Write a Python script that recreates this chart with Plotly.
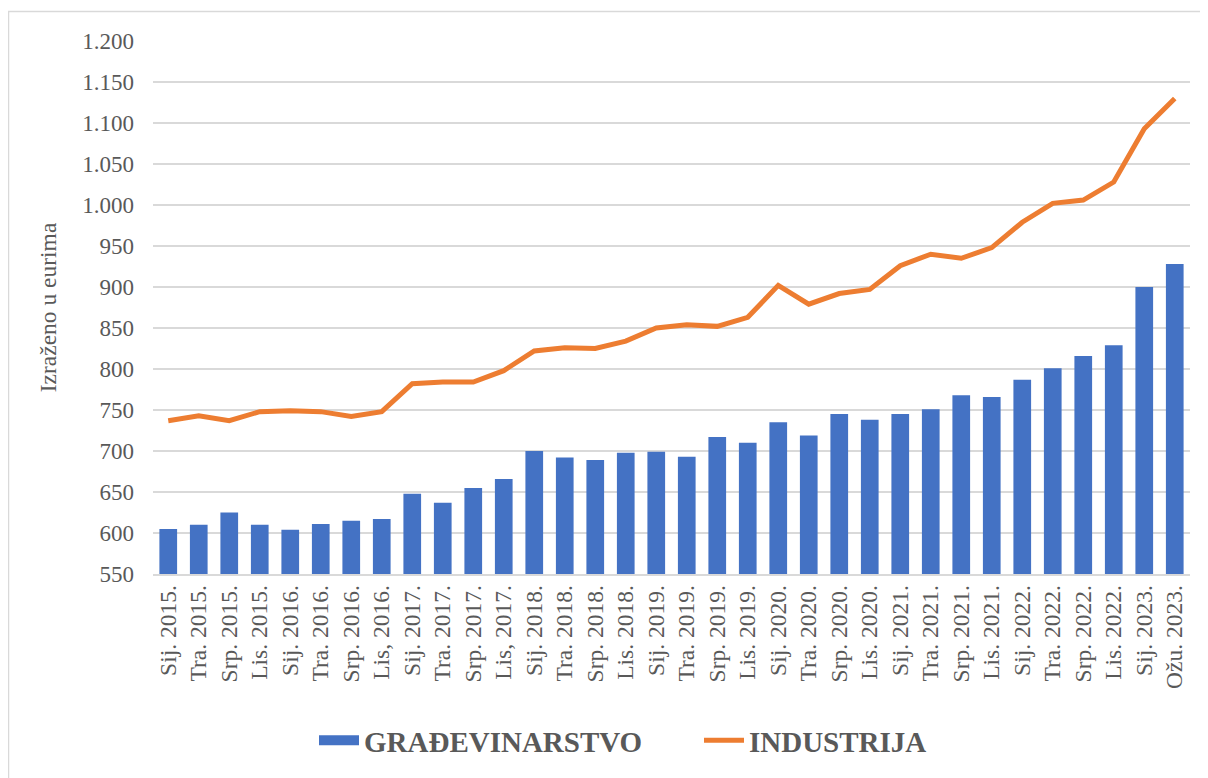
import plotly.graph_objects as go

categories = [
    "Sij. 2015.", "Tra. 2015.", "Srp. 2015.", "Lis. 2015.",
    "Sij. 2016.", "Tra. 2016.", "Srp. 2016.", "Lis, 2016.",
    "Sij. 2017.", "Tra. 2017.", "Srp. 2017.", "Lis, 2017.",
    "Sij. 2018.", "Tra. 2018.", "Srp. 2018.", "Lis. 2018.",
    "Sij. 2019.", "Tra. 2019.", "Srp. 2019.", "Lis. 2019.",
    "Sij. 2020.", "Tra. 2020.", "Srp. 2020.", "Lis. 2020.",
    "Sij. 2021.", "Tra. 2021.", "Srp. 2021.", "Lis. 2021.",
    "Sij. 2022.", "Tra. 2022.", "Srp. 2022.", "Lis. 2022.",
    "Sij. 2023.", "Ožu. 2023.",
]

gradevinarstvo = [
    605, 610, 625, 610,
    604, 611, 615, 617,
    648, 637, 655, 666,
    700, 692, 689, 698,
    699, 693, 717, 710,
    735, 719, 745, 738,
    745, 751, 768, 766,
    787, 801, 816, 829,
    900, 928,
]

industrija = [
    737, 743, 737, 748,
    749, 748, 742, 748,
    782, 784, 784, 798,
    822, 826, 825, 834,
    850, 854, 852, 863,
    902, 879, 892, 897,
    926, 940, 935, 948,
    979, 1002, 1006, 1028,
    1093, 1130,
]

y_ticks = list(range(550, 1201, 50))

BLUE = "#4472C4"
ORANGE = "#ED7D31"
GREY = "#595959"
FONT = "Liberation Serif"

fig = go.Figure()
fig.add_trace(go.Bar(
    x=categories, y=gradevinarstvo, name="GRAĐEVINARSTVO",
    marker=dict(color=BLUE, line=dict(width=0)), showlegend=False,
))
# legend swatch for the bars (wide rectangle, as in the original)
fig.add_trace(go.Scatter(
    x=[None], y=[None], mode="lines", name="GRAĐEVINARSTVO",
    line=dict(color=BLUE, width=15),
))
fig.add_trace(go.Scatter(
    x=categories, y=industrija, name="INDUSTRIJA", mode="lines",
    line=dict(color=ORANGE, width=5),
))

# page body has an 8px margin; figure coordinates are page - 8
OFF = 8
L, R, T, B = 153 - OFF, 1190 - OFF, 41 - OFF, 576 - OFF
W, H = 1200, 770
pw, ph = R - L, B - T

fig.update_layout(
    width=W, height=H,
    margin=dict(l=L, r=W - R, t=T, b=H - B, pad=0),
    paper_bgcolor="white", plot_bgcolor="white",
    separators=",.",
    bargap=0.42,
    font=dict(family=FONT, color=GREY, size=23),
    legend=dict(
        orientation="h", x=(314 - OFF - L) / pw, xanchor="left", y=(B - (743 - OFF)) / ph, yanchor="middle",
        font=dict(family=FONT, size=29, color=GREY, weight="bold"),
        itemwidth=40, tracegroupgap=0, bgcolor="rgba(0,0,0,0)",
        entrywidth=330, entrywidthmode="pixels",
    ),
    xaxis=dict(
        type="category", tickangle=-90, showgrid=False,
        showline=True, linecolor="#D9D9D9", linewidth=1.5,
        ticks="", tickfont=dict(family=FONT, size=23.5, color=GREY),
        ticklabelstandoff=0,
    ),
    yaxis=dict(
        range=[550, 1200], tickvals=y_ticks, tickformat=",d",
        showgrid=True, gridcolor="#D9D9D9", gridwidth=1.5,
        zeroline=False, showline=False, ticks="",
        tickfont=dict(family=FONT, size=23, color=GREY),
        ticklabelstandoff=18,
        title=dict(text="Izraženo u eurima", font=dict(family=FONT, size=23.5, color=GREY), standoff=19),
    ),
    shapes=[dict(
        type="rect", xref="paper", yref="paper",
        x0=(8.5 - OFF - L) / pw, x1=(1230 - OFF - L) / pw,
        y0=(B - 800) / ph, y1=(B - (11.5 - OFF)) / ph,
        line=dict(color="#D9D9D9", width=1.5), fillcolor="rgba(0,0,0,0)", layer="below",
    )],
)

fig.write_html("out.html")
